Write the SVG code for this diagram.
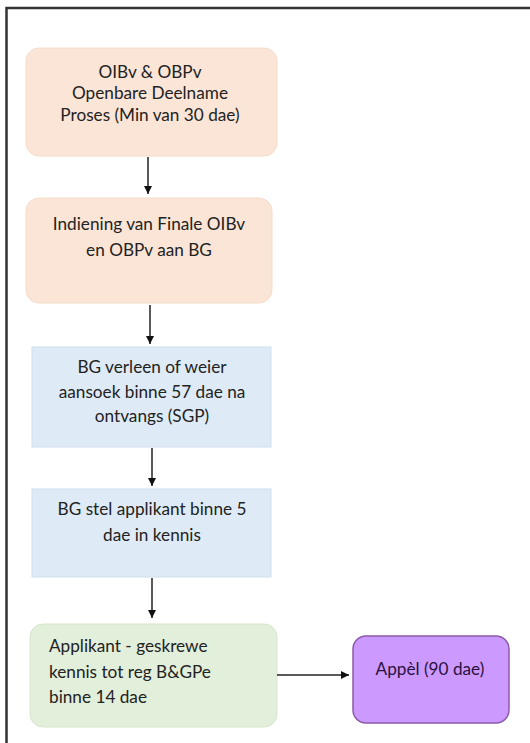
<svg xmlns="http://www.w3.org/2000/svg" width="530" height="743" viewBox="0 0 530 743">
<defs>
<marker id="ah" viewBox="0 0 10 10" refX="10" refY="5" markerWidth="8" markerHeight="8" markerUnits="userSpaceOnUse" orient="auto">
<path d="M0,0 L10,5 L0,10 z" fill="#111"/>
</marker>
<style>
.t{font-family:Lato,"Liberation Sans",sans-serif;font-size:17.2px;fill:#222;text-anchor:middle}
.l{text-anchor:start}
.peach{fill:#fbe5d6;stroke:#f6dccb;stroke-width:1}
.blue{fill:#deebf7;stroke:#cfdeee;stroke-width:1}
.green{fill:#e2efda;stroke:#d6e6cc;stroke-width:1}
.purple{fill:#cc99ff;stroke:#8a5aa8;stroke-width:1.5}
.c{stroke:#222;stroke-width:1.5;fill:none;marker-end:url(#ah)}
</style>
</defs>
<rect width="530" height="743" fill="#fff"/>
<rect x="6.5" y="8" width="560" height="780" fill="none" stroke="#333" stroke-width="2.5"/>
<g id="n1">
<rect class="peach" x="26" y="48" width="251" height="108" rx="13"/>
<text class="t" x="150" y="78">OIBv &amp; OBPv</text>
<text class="t" x="150" y="99">Openbare Deelname</text>
<text class="t" x="150" y="121">Proses (Min van 30 dae)</text>
</g>
<g id="n2">
<rect class="peach" x="26" y="198" width="246" height="105" rx="13"/>
<text class="t" x="149" y="230">Indiening van Finale OIBv</text>
<text class="t" x="149" y="256">en OBPv aan BG</text>
</g>
<g id="n3">
<rect class="blue" x="32" y="347" width="239" height="100"/>
<text class="t" x="152" y="373">BG verleen of weier</text>
<text class="t" x="152" y="398">aansoek binne 57 dae na</text>
<text class="t" x="152" y="422">ontvangs (SGP)</text>
</g>
<g id="n4">
<rect class="blue" x="32" y="489" width="239" height="88"/>
<text class="t" x="152" y="515">BG stel applikant binne 5</text>
<text class="t" x="152" y="541">dae in kennis</text>
</g>
<g id="n5">
<rect class="green" x="30" y="624" width="247" height="103" rx="13"/>
<text class="t l" x="49" y="652">Applikant - geskrewe</text>
<text class="t l" x="49" y="678">kennis tot reg B&amp;GPe</text>
<text class="t l" x="49" y="703">binne 14 dae</text>
</g>
<g id="n6">
<rect class="purple" x="353" y="636" width="156" height="87" rx="13"/>
<text class="t" x="430" y="675" style="fill:#2a1040">Appèl (90 dae)</text>
</g>
<g id="connectors">
<line class="c" x1="148" y1="157" x2="148" y2="194"/>
<line class="c" x1="150" y1="305" x2="150" y2="344"/>
<line class="c" x1="152" y1="448" x2="152" y2="486"/>
<line class="c" x1="152" y1="578" x2="152" y2="618"/>
<line class="c" x1="277" y1="675" x2="349" y2="675"/>
</g>
</svg>
